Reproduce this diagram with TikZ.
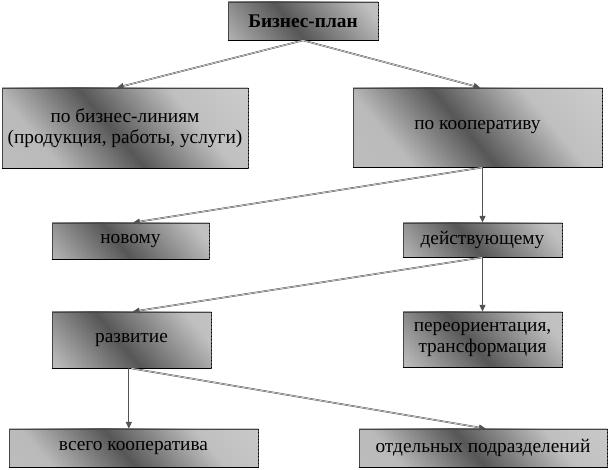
\documentclass[tikz,border=0pt]{standalone}
\usepackage{fontspec}
\setmainfont{Liberation Serif}
\usepackage{tikz}
\usetikzlibrary{arrows.meta, positioning, calc}
\pgfdeclarehorizontalshading{boxshade}{100bp}{%
    color(0bp)=(black!22); color(36bp)=(black!27); color(48bp)=(black!66);
    color(61bp)=(black!25); color(78bp)=(black!18); color(100bp)=(black!18)}
\tikzset {
    box/.style = {
        draw = gray!55!black,
        line width = 0.6pt,
        shape = rectangle,
        align = center,
        inner sep = 0pt,
        font = \fontsize{14.5}{16}\selectfont,
        % diagonal grey shading, same slope in every box
        path picture = {
            \shade [shading=boxshade,
                    transform canvas={rotate around={40:(path picture bounding box.center)}}]
                ($(path picture bounding box.center)+(-3.5cm,-3.5cm)$) rectangle
                ($(path picture bounding box.center)+(3.5cm,3.5cm)$);
        },
        % dark edge at the bottom, dotted edge at the right
        append after command = {
            (\tikzlastnode.south west) edge[draw=black, line width=1.1pt] (\tikzlastnode.south east)
            (\tikzlastnode.north east) edge[draw=black, dotted, line width=0.6pt] (\tikzlastnode.south east)
        }
    },
    link/.style = {
        ->,
        >={Triangle[length=5pt, width=4.5pt]},
        line width=0.7pt,
        draw=gray!65!black
    },
    slant/.style = {
        link,
        double = gray!10,
        double distance = 0.4pt,
        line width = 0.4pt
    }
}
\begin{document}
\begin{tikzpicture}[x=0.75pt, y=-0.75pt]
        \useasboundingbox (0, 0) rectangle (611, 470);

        % Top : the whole plan
        \node [box, minimum width=112.5pt, minimum height=28.5pt, font=\fontsize{14.5}{16}\selectfont\bfseries] at (303, 21) (plan) {Бизнес-план};

        % Second row : by business lines, by cooperative
        \node [box, minimum width=184.5pt, minimum height=60pt]    at (125, 128)   (lines)   {по бизнес-линиям\\(продукция, работы, услуги)};
        \node [box, minimum width=186.75pt, minimum height=59.25pt] at (477.5, 127.5) (coop) {по кооперативу};

        % Third row : new, existing
        \node [box, minimum width=117.75pt, minimum height=27pt]   at (130.5, 241) (newcoop) {новому};
        \node [box, minimum width=119.25pt, minimum height=25.5pt] at (482.5, 240) (current) {действующему};

        % Fourth row : development, reorientation
        \node [box, minimum width=119.25pt, minimum height=42pt]    at (131.5, 340)   (develop) {развитие};
        \node [box, minimum width=119.25pt, minimum height=41.25pt] at (482.5, 339.5) (reorient) {переориентация,\\трансформация};

        % Fifth row : whole cooperative, separate units
        \node [box, minimum width=186.75pt, minimum height=28.5pt] at (133.5, 448) (whole) {всего кооператива};
        \node [box, minimum width=186pt, minimum height=28.5pt]    at (483, 448)   (units) {отдельных подразделений};

        \path [slant] (plan.south)   --  ([xshift=-6pt]lines.north);
        \path [slant] (plan.south)   --  ([xshift=2pt]coop.north);

        \path [slant] ([xshift=4pt]coop.south)  --  ([xshift=2pt]newcoop.north);
        \path [link]  (coop.south -| current.north) -- (current.north);

        \path [slant] (current.south)  --  ([xshift=1pt]develop.north);
        \path [link]  (current.south)  --  (reorient.north);

        \path [link]  ([xshift=-2pt]develop.south)  --  ([xshift=-2pt]develop.south |- whole.north);
        \path [slant] (develop.south)  --  ([xshift=2pt]units.north);
    \end{tikzpicture}
\end{document}
